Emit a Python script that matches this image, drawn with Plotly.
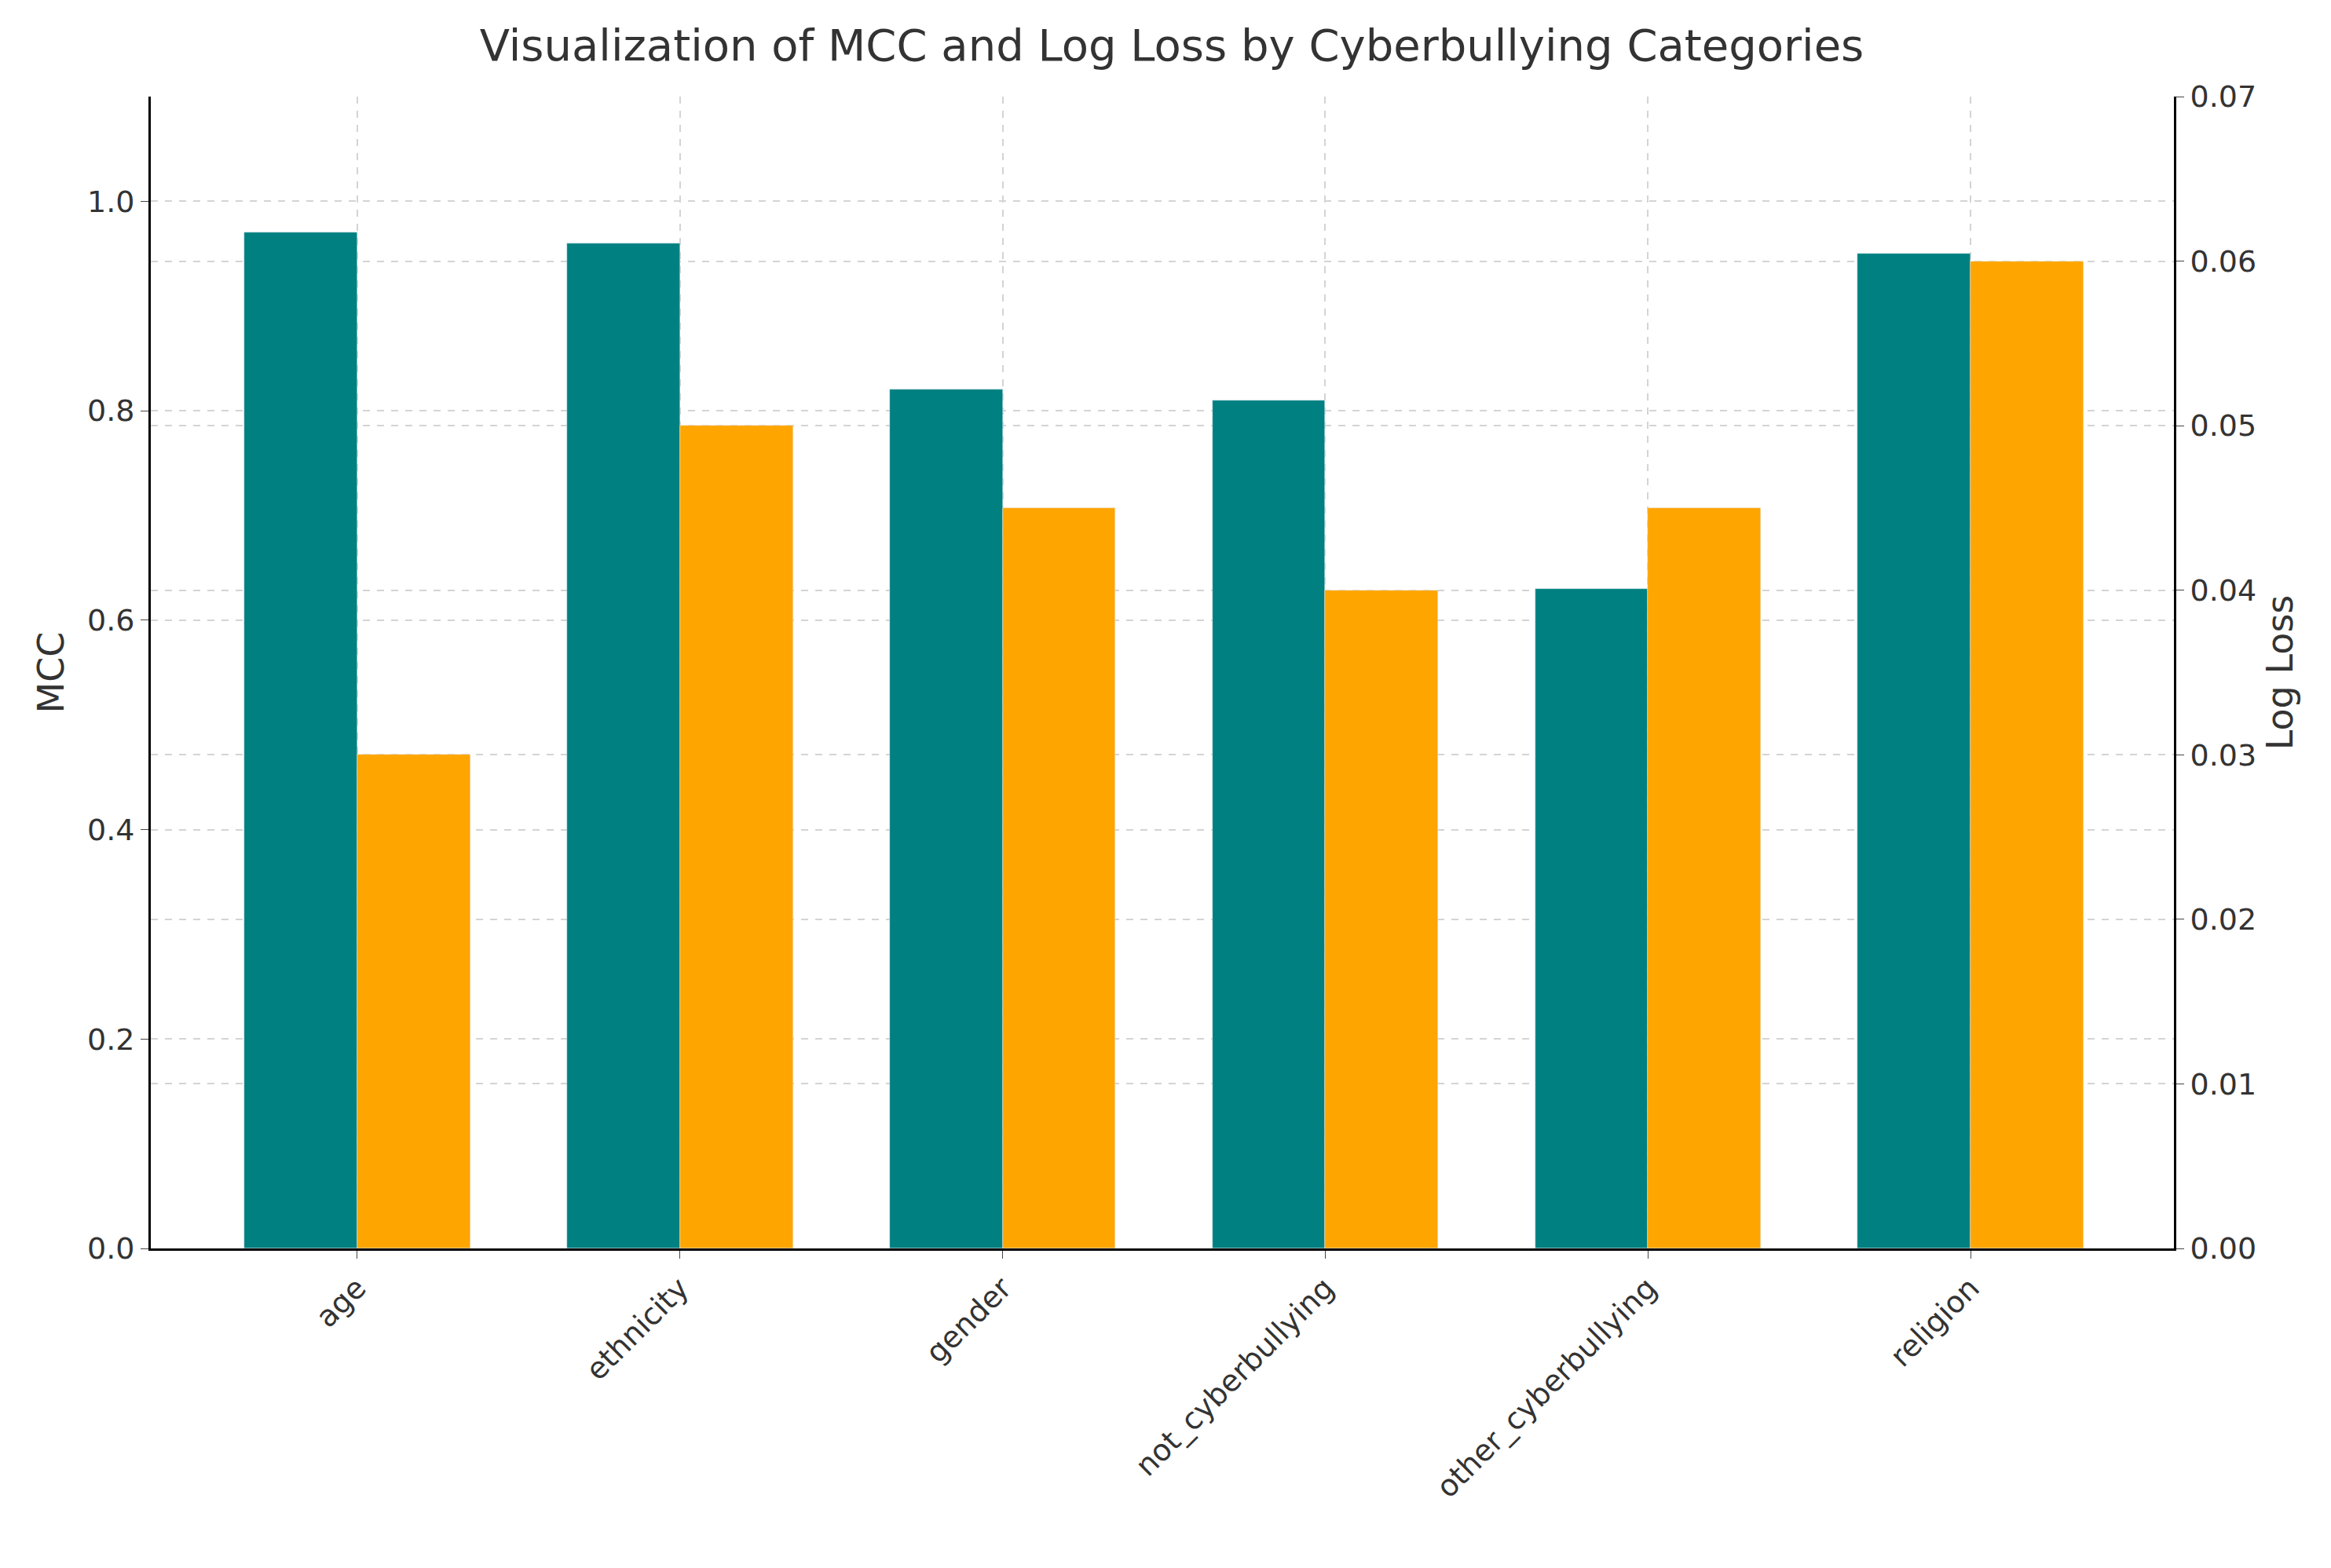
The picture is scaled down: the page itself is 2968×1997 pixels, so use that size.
import plotly.graph_objects as go

# values
categories = ["age", "ethnicity", "gender", "not_cyberbullying", "other_cyberbullying", "religion"]
mcc = [0.97, 0.96, 0.82, 0.81, 0.63, 0.95]
log_loss = [0.030, 0.050, 0.045, 0.040, 0.045, 0.060]

fig = go.Figure()
fig.add_trace(go.Bar(x=categories, y=mcc, name="MCC", marker_color="#008080",
                     width=0.35, offset=-0.35, offsetgroup="a"))
fig.add_trace(go.Bar(x=categories, y=log_loss, name="Log Loss", marker_color="#FFA500",
                     width=0.35, offset=0, offsetgroup="b", yaxis="y2"))

grid = dict(showgrid=True, gridcolor="#d4d4d4", griddash="dash", gridwidth=2)
fig.update_layout(
    width=2968, height=1997,
    plot_bgcolor="white", paper_bgcolor="white",
    font=dict(family="DejaVu Sans", size=38, color="#333"),
    title=dict(text="Visualization of MCC and Log Loss by Cyberbullying Categories",
               x=0.5, xanchor="center", y=0.985, yanchor="top", font=dict(size=56)),
    showlegend=False,
    margin=dict(l=184, r=208, t=115, b=415),
    bargap=0,
    xaxis=dict(range=[-0.64, 5.63], tickangle=-45, showline=True, linecolor="black",
               linewidth=3, ticks="outside", ticklen=10, **grid),
    yaxis=dict(title=dict(text="MCC", font=dict(size=46)), range=[0, 1.1],
               tickvals=[0, 0.2, 0.4, 0.6, 0.8, 1.0], tickformat=".1f",
               showline=True, linecolor="black", linewidth=3, ticks="outside",
               ticklen=10, zeroline=False, **grid),
    yaxis2=dict(title=dict(text="Log Loss", font=dict(size=46)), range=[0, 0.07],
                dtick=0.01, tickformat=".2f", overlaying="y", side="right",
                showline=True, linecolor="black", linewidth=3, ticks="outside",
                ticklen=10, zeroline=False, **grid),
)

fig.write_html("out.html")
